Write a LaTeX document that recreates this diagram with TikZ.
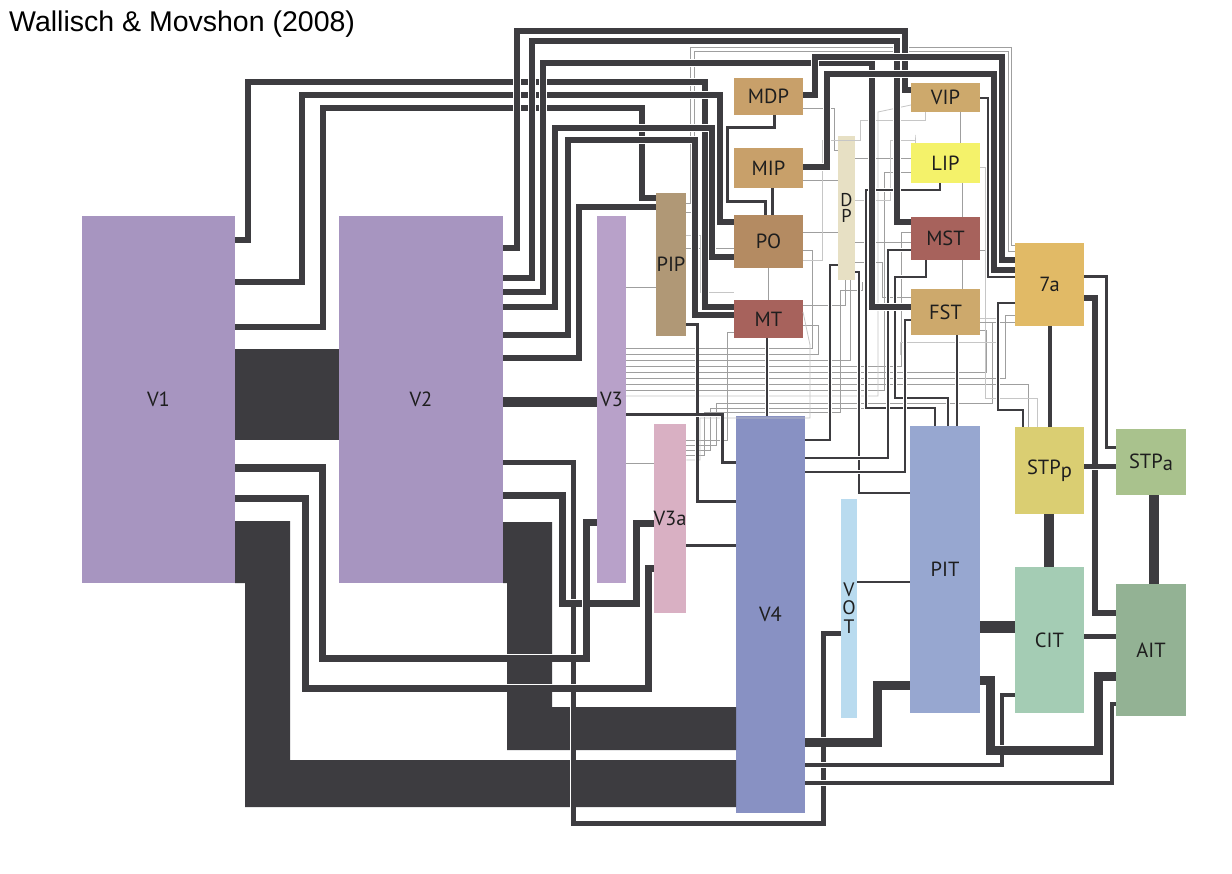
\documentclass[tikz,border=0pt]{standalone}
\usepackage{fontspec}
\setmainfont{PT Sans}
\newfontfamily\titlefont{Liberation Sans}
\newcommand\boxfont{\fontsize{20.5}{20}\selectfont}
\newcommand\dpfont{\fontsize{18.5}{16.5}\selectfont}
\newcommand\votfont{\fontsize{19.5}{18.5}\selectfont}
\definecolor{dk}{RGB}{61,60,64}
\definecolor{cV1}{RGB}{167,149,192}
\definecolor{cV3}{RGB}{184,161,201}
\definecolor{cPIP}{RGB}{176,152,118}
\definecolor{cV3a}{RGB}{217,176,195}
\definecolor{cMDP}{RGB}{200,160,106}
\definecolor{cPO}{RGB}{180,139,98}
\definecolor{cMT}{RGB}{167,98,92}
\definecolor{cDP}{RGB}{231,224,196}
\definecolor{cVIP}{RGB}{205,169,108}
\definecolor{cLIP}{RGB}{244,242,106}
\definecolor{c7a}{RGB}{225,186,102}
\definecolor{cSTPp}{RGB}{218,206,114}
\definecolor{cSTPa}{RGB}{169,194,141}
\definecolor{cCIT}{RGB}{164,204,180}
\definecolor{cAIT}{RGB}{147,178,148}
\definecolor{cV4}{RGB}{136,145,195}
\definecolor{cVOT}{RGB}{185,219,239}
\definecolor{cPIT}{RGB}{151,167,208}
\definecolor{labc}{RGB}{30,30,30}
\tikzset{
  box/.style={rectangle, inner sep=0pt, outer sep=0pt, font=\boxfont, text=labc, align=center},
  ln/.style={draw=dk, line width=#1, line join=miter, preaction={draw=white, line width=#1+1.8pt, line join=miter}},
  gy/.style={draw=gray!75, line width=0.8pt},
  gl/.style={draw=gray!45, line width=0.8pt},
}
\begin{document}
\begin{tikzpicture}[x=1pt,y=-1pt]
\useasboundingbox (0,0) rectangle (1232,874);
\fill[white] (0,0) rectangle (1232,874);
\node[anchor=base west, font=\titlefont\fontsize{28.5}{28}\selectfont, inner sep=0pt] (title) at (9,32) {Wallisch \& Movshon (2008)};

% boxes
\node[box, fill=cV1, minimum width=153pt, minimum height=367pt] (V1) at (158.5,399.5) {V1};
\node[box, fill=cV1, minimum width=164pt, minimum height=367pt] (V2) at (421,399.5) {V2};
\node[box, fill=cV3, minimum width=29pt, minimum height=367pt] (V3) at (611.5,399.5) {V3};
\node[box, fill=cPIP, minimum width=30pt, minimum height=143pt] (PIP) at (671,264.5) {PIP};
\node[box, fill=cV3a, minimum width=30pt, minimum height=189pt] (V3a) at (670,518.5) {V3a};
\node[box, fill=cMDP, minimum width=69pt, minimum height=37pt] (MDP) at (768.5,96.5) {MDP};
\node[box, fill=cMDP, minimum width=69pt, minimum height=40pt] (MIP) at (768.5,168) {MIP};
\node[box, fill=cPO, minimum width=69pt, minimum height=53pt] (PO) at (768.5,241.5) {PO};
\node[box, fill=cMT, minimum width=69pt, minimum height=38pt] (MT) at (768.5,319) {MT};
\node[box, font=\dpfont, fill=cDP, minimum width=17pt, minimum height=144pt] (DP) at (846.5,208) {D\\P};
\node[box, fill=cVIP, minimum width=69pt, minimum height=29pt] (VIP) at (945.5,97.5) {VIP};
\node[box, fill=cLIP, minimum width=69pt, minimum height=40pt] (LIP) at (945.5,163) {LIP};
\node[box, fill=cMT, minimum width=69pt, minimum height=43pt] (MST) at (945.5,238.5) {MST};
\node[box, fill=cVIP, minimum width=69pt, minimum height=46pt] (FST) at (945.5,312) {FST};
\node[box, fill=c7a, minimum width=69pt, minimum height=83pt] (A7) at (1049.5,284.5) {7a};
\node[box, fill=cSTPp, minimum width=69pt, minimum height=87pt] (STPp) at (1049.5,470.5) {STP\raisebox{-3pt}{p}};
\node[box, fill=cSTPa, minimum width=70pt, minimum height=66pt] (STPa) at (1151,462) {STP\raisebox{-2pt}{a}};
\node[box, fill=cCIT, minimum width=69pt, minimum height=146pt] (CIT) at (1049.5,640) {CIT};
\node[box, fill=cAIT, minimum width=70pt, minimum height=132pt] (AIT) at (1151,650) {AIT};
\node[box, fill=cV4, minimum width=69pt, minimum height=397pt] (V4) at (770.5,614.5) {V4};
\node[box, font=\votfont, fill=cVOT, minimum width=16pt, minimum height=219pt] (VOT) at (849,608) {V\\O\\T};
\node[box, fill=cPIT, minimum width=70pt, minimum height=287pt] (PIT) at (945,569.5) {PIT};

% big bands
\fill[dk] (V1.east |- 0,349) rectangle (V2.west |- 0,440);
\fill[dk] (V1.east |- 0,521) -- (290,521) -- (290,760) -- (V4.west |- 0,760) -- (V4.west |- 0,807) -- (245,807) -- (245,583) -- (V1.east |- 0,583) -- cycle;
\fill[dk] (V2.east |- 0,522) -- (552,522) -- (552,707) -- (V4.west |- 0,707) -- (V4.west |- 0,750) -- (507,750) -- (507,583) -- (V2.east |- 0,583) -- cycle;

% gray network
\draw[gy] (V3.east |- 0,287) -- (PIP.west |- 0,287);
\draw[gy] (V3.east |- 0,463) -- (V3a.west |- 0,463);
\draw[gy] (PIP.east |- 0,203) -- (690,203) -- (690,47) -- (1011,47) -- (1011,245) -- (A7.west |- 0,245);
\draw[gy] (PIP.east |- 0,212) -- (694,212) -- (694,51) -- (1008,51) -- (1008,251) -- (A7.west |- 0,251);
\draw[gy] (PIP.east |- 0,248) -- (PO.west |- 0,248);
\draw[gl] (PIP.east |- 0,235) -- (700,235) -- (700,292) -- (MT.west |- 0,292);
\draw[gy] (V3.east |- 0,348) -- (812,348) -- (812,250) -- (PO.east |- 0,250);
\draw[gy] (V3.east |- 0,354) -- (818,354) -- (818,325) -- (MT.east |- 0,325);
\draw[gy] (V3.east |- 0,360) -- (850,360) -- (DP.south -| 850,0);
\draw[gy] (V3.east |- 0,366) -- (901,366) -- (901,232) -- (MST.west |- 0,232);
\draw[gy] (V3.east |- 0,372) -- (986,372) -- (986,330) -- (FST.east |- 0,330);
\draw[gy] (V3.east |- 0,378) -- (1005,378) -- (1005,315) -- (A7.west |- 0,315);
\draw[gy] (V3.east |- 0,384) -- (1028,384) -- (STPp.north -| 1028,0);
\draw[gy] (V3.east |- 0,390) -- (884,390) -- (884,172) -- (LIP.west |- 0,172);
\draw[gl] (V3.east |- 0,396) -- (878,396) -- (878,112) -- (VIP.west |- 0,105);
\draw[gy] (V3a.east |- 0,440) -- (727,440) -- (727,332) -- (MT.west |- 0,332);
\draw[gy] (V3a.east |- 0,445) -- (716,445) -- (716,403) -- (992,403) -- (992,322) -- (A7.west |- 0,322);
\draw[gy] (V3a.east |- 0,450) -- (710,450) -- (710,408) -- (915,408) ;
\draw[gy] (V3a.east |- 0,455) -- (704,455) -- (704,412) -- (840,412) -- (840,290) -- (862,290) -- (862,282);
\draw[gl] (V3a.east |- 0,460) -- (700,460) -- (700,418) -- (810,418) -- (810,345) -- (MT.east |- 0,312);
\draw[gy] (PO.south -| 768,0) -- (MT.north -| 768,0);
\draw[gy] (MDP.east |- 0,108) -- (834,108) -- (834,150) -- (DP.west |- 0,150);
\draw[gy] (MIP.east |- 0,180) -- (DP.west |- 0,180);
\draw[gy] (PO.east |- 0,232) -- (DP.west |- 0,232);
\draw[gl] (PO.east |- 0,260) -- (822,260) -- (822,140) -- (860,140) -- (860,120) -- (925,120) -- (VIP.south -| 925,0);
\draw[gy] (MT.east |- 0,305) -- (845,305) -- (DP.south -| 845,0);
\draw[gy] (DP.east |- 0,158) -- (LIP.west |- 0,158);
\draw[gy] (DP.east |- 0,242) -- (MST.west |- 0,242);
\draw[gy] (DP.east |- 0,262) -- (882,262) -- (882,297) -- (FST.west |- 0,297);
\draw[gl] (DP.east |- 0,200) -- (890,200) -- (890,140) -- (915,140) -- (915,135) -- (LIP.north -| 915,0);
\draw[gy] (VIP.south -| 960,0) -- (LIP.north -| 960,0);
\draw[gy] (LIP.south -| 962,0) -- (MST.north -| 962,0);
\draw[gy] (MST.south -| 962,0) -- (FST.north -| 962,0);
\draw[gy] (MST.east |- 0,250) -- (988,250) -- (988,262);
\draw[gl] (LIP.east |- 0,167) -- (985,167) -- (985,398) -- (1037,398) -- (STPp.north -| 1037,0);
\draw[gy] (FST.east |- 0,322) -- (992,322);
\draw[gl] (FST.east |- 0,318) -- (997,318) -- (997,342) -- (900,342) -- (900,355);

% medium dark lines
\draw[ln=3pt] (PIP.east |- 0,325) -- (697,325) -- (697,501) -- (V4.west |- 0,501);
\draw[ln=3pt] (V3.east |- 0,415) -- (722,415) -- (722,463) -- (V4.west |- 0,463);
\draw[ln=3pt] (V3a.east |- 0,545) -- (V4.west |- 0,545);
\draw[ln=1.6pt] (MT.south -| 767,0) -- (V4.north -| 767,0);
\draw[ln=3pt] (MDP.south -| 774,0) -- (774,128) -- (727,128) -- (727,202) -- (765,202) -- (PO.north -| 765,0);
\draw[ln=3pt] (MIP.south -| 772,0) -- (PO.north -| 772,0);
\draw[ln=2.6pt] (MST.south -| 926,0) -- (926,277) -- (895,277) -- (895,398) -- (948,398) -- (PIT.north -| 948,0);
\draw[ln=2.6pt] (LIP.south -| 940,0) -- (940,190) -- (866,190) -- (866,408) -- (935,408) -- (PIT.north -| 935,0);
\draw[ln=2.6pt] (FST.south -| 957,0) -- (PIT.north -| 957,0);
\draw[ln=2.4pt] (DP.east |- 0,272) -- (859,272) -- (859,493) -- (PIT.west |- 0,493);
\draw[ln=2.4pt] (V4.east |- 0,440) -- (830,440) -- (830,265) -- (DP.west |- 0,265);
\draw[ln=2.4pt] (V4.east |- 0,458) -- (888,458) -- (888,250) -- (MST.west |- 0,250);
\draw[ln=2.4pt] (V4.east |- 0,472) -- (905,472) -- (905,320) -- (FST.west |- 0,320);
\draw[ln=1.8pt] (VOT.east |- 0,582) -- (PIT.west |- 0,582);
\draw[ln=2pt] (VIP.east |- 0,98) -- (988,98) -- (988,277) -- (A7.west |- 0,277);
\draw[ln=1.8pt] (A7.west |- 0,303) -- (998,303) -- (998,410) -- (1023,410) -- (STPp.north -| 1023,0);

% thick lines from V1 / V2
\draw[ln=6.5pt] (V1.east |- 0,240) -- (248,240) -- (248,82) -- (705,82) -- (705,307) -- (MT.west |- 0,307);
\draw[ln=6.5pt] (V1.east |- 0,282) -- (302,282) -- (302,95) -- (720,95) -- (720,222) -- (PO.west |- 0,222);
\draw[ln=6.5pt] (V1.east |- 0,327) -- (323,327) -- (323,108) -- (642,108) -- (642,198) -- (PIP.west |- 0,198);
\draw[ln=6.5pt] (V2.east |- 0,248) -- (517,248) -- (517,31) -- (905,31) -- (905,90) -- (VIP.west |- 0,90);
\draw[ln=6.5pt] (V2.east |- 0,278) -- (532,278) -- (532,41) -- (897,41) -- (897,222) -- (MST.west |- 0,222);
\draw[ln=6.5pt] (V2.east |- 0,292) -- (543,292) -- (543,63) -- (872,63) -- (872,307) -- (FST.west |- 0,307);
\draw[ln=6.5pt] (V2.east |- 0,307) -- (555,307) -- (555,128) -- (712,128) -- (712,257) -- (PO.west |- 0,257);
\draw[ln=6.5pt] (V2.east |- 0,335) -- (568,335) -- (568,140) -- (695,140) -- (695,315) -- (MT.west |- 0,315);
\draw[ln=6.5pt] (V2.east |- 0,358) -- (579,358) -- (579,207) -- (PIP.west |- 0,207);
\draw[ln=6.5pt] (MDP.east |- 0,95) -- (815,95) -- (815,57) -- (1002,57) -- (1002,260) -- (A7.west |- 0,260);
\draw[ln=6.5pt] (MIP.east |- 0,167) -- (827,167) -- (827,74) -- (994,74) -- (994,270) -- (A7.west |- 0,270);
\draw[ln=9.5pt] (V2.east |- 0,402) -- (V3.west |- 0,402);

\draw[ln=5pt] (V2.east |- 0,463) -- (573,463) -- (573,823) -- (823,823) -- (823,633) -- (VOT.west |- 0,633);
\draw[ln=7pt] (V2.east |- 0,495) -- (562,495) -- (562,603) -- (636,603) -- (636,523) -- (V3a.west |- 0,523);
\draw[ln=7pt] (V1.east |- 0,468) -- (322,468) -- (322,658) -- (586,658) -- (586,522) -- (V3.west |- 0,522);
\draw[ln=7pt] (V1.east |- 0,498) -- (305,498) -- (305,688) -- (648,688) -- (648,568) -- (V3a.west |- 0,568);

% lower right
\draw[ln=9pt] (V4.east |- 0,742) -- (877,742) -- (877,685) -- (PIT.west |- 0,685);
\draw[ln=4.5pt] (V4.east |- 0,765) -- (1002,765) -- (1002,695) -- (CIT.west |- 0,695);
\draw[ln=4.5pt] (V4.east |- 0,783) -- (1112,783) -- (1112,704) -- (AIT.west |- 0,704);
\draw[ln=9pt] (PIT.east |- 0,680) -- (990,680) -- (990,750) -- (1098,750) -- (1098,676) -- (AIT.west |- 0,676);
\draw[ln=12pt] (PIT.east |- 0,627) -- (CIT.west |- 0,627);
\draw[ln=5pt] (CIT.east |- 0,636) -- (AIT.west |- 0,636);
\draw[ln=6pt] (A7.east |- 0,298) -- (1095,298) -- (1095,613) -- (AIT.west |- 0,613);
\draw[ln=3pt] (A7.east |- 0,277) -- (1106,277) -- (1106,448) -- (STPa.west |- 0,448);
\draw[ln=4pt] (A7.south -| 1050,0) -- (STPp.north -| 1050,0);
\draw[ln=10pt] (STPp.south -| 1049,0) -- (CIT.north -| 1049,0);
\draw[ln=10pt] (STPa.south -| 1154,0) -- (AIT.north -| 1154,0);
\draw[ln=5pt] (STPp.east |- 0,467) -- (STPa.west |- 0,467);
\end{tikzpicture}
\end{document}
